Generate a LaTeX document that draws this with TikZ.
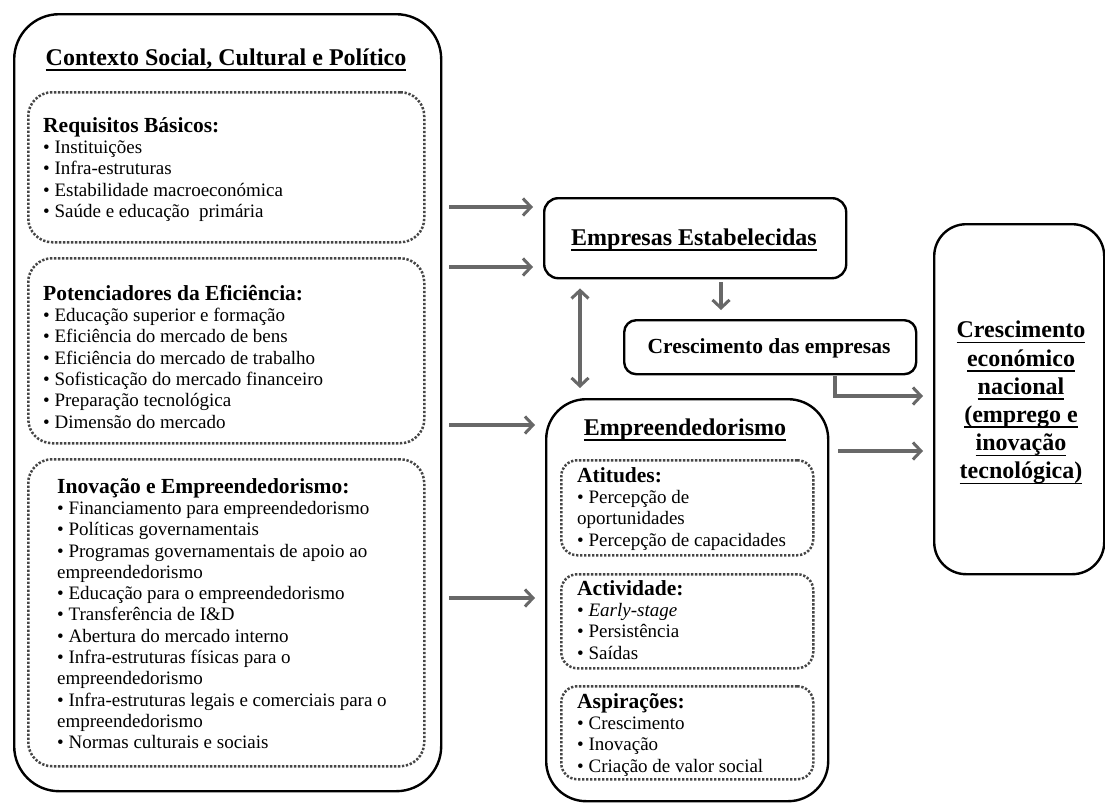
\documentclass[tikz,border=0pt]{standalone}
\usepackage{fontspec}
\setmainfont{Liberation Serif}
\usetikzlibrary{arrows.meta}
\definecolor{arrgray}{RGB}{104,104,104}
\definecolor{dotgray}{RGB}{70,70,70}
\newsavebox\hulbox
\newcommand\hul[1]{\sbox\hulbox{#1}\rlap{\rule[-5.6pt]{\wd\hulbox}{1.6pt}}\usebox\hulbox}
\newcommand\listhead[1]{{\fontsize{21.5}{21.2}\selectfont\bfseries #1}}
\tikzset{
  solidbox/.style={draw, line width=2.4pt, rounded corners=#1, inner sep=0pt, anchor=north west},
  dotbox/.style={draw=dotgray, line width=2.5pt, dash pattern=on 2.3pt off 1.7pt, rounded corners=#1, inner sep=0pt, anchor=north west},
  listtxt/.style={align=left, inner sep=0pt, anchor=north west, font=\fontsize{19}{21.3}\selectfont},
  title/.style={inner sep=0pt, anchor=base, font=\fontsize{24}{28}\selectfont\bfseries},
  arr/.style={draw=arrgray, line width=3.3pt, -{Straight Barb[length=8pt,width=17pt,line width=3pt]}},
  dblarr/.style={draw=arrgray, line width=3.3pt, {Straight Barb[length=8pt,width=17pt,line width=3pt]}-{Straight Barb[length=8pt,width=17pt,line width=3pt]}}
}
\begin{document}
\begin{tikzpicture}[x=1pt,y=-1pt]
\useasboundingbox (0,0) rectangle (1105,803);
\fill[white] (0,0) rectangle (1105,803);

% boxes
\node[solidbox=45pt, minimum width=427pt, minimum height=777pt] (ctx) at (13,13) {};
\node[dotbox=24pt, minimum width=396pt, minimum height=150pt] (b1) at (27,91) {};
\node[dotbox=24pt, minimum width=396pt, minimum height=185pt] (b2) at (27,257) {};
\node[dotbox=24pt, minimum width=396pt, minimum height=307pt] (b3) at (27,458) {};

\node[solidbox=14pt, minimum width=302pt, minimum height=80pt] (est) at (543,197) {};
\node[solidbox=12pt, minimum width=292pt, minimum height=54pt] (cres) at (623,319) {};
\node[solidbox=40pt, minimum width=282pt, minimum height=402pt] (emp) at (545,398) {};
\node[dotbox=16pt, minimum width=252pt, minimum height=95pt] (att) at (560,459) {};
\node[dotbox=16pt, minimum width=252pt, minimum height=94pt] (act) at (560,573) {};
\node[dotbox=16pt, minimum width=252pt, minimum height=93pt] (asp) at (560,685) {};
\node[solidbox=32pt, minimum width=170pt, minimum height=350pt] (nat) at (933,223) {};

% texts
\node[title] (ctxT) at (226,65) {\hul{Contexto Social, Cultural e Político}};
\node[listtxt] (b1T) at (43,117) {\listhead{Requisitos Básicos:}\\
• Instituições\\
• Infra-estruturas\\
• Estabilidade macroeconómica\\
• Saúde e educação~ primária};
\node[listtxt] (b2T) at (43,285) {\listhead{Potenciadores da Eficiência:}\\
• Educação superior e formação\\
• Eficiência do mercado de bens\\
• Eficiência do mercado de trabalho\\
• Sofisticação do mercado financeiro\\
• Preparação tecnológica\\
• Dimensão do mercado};
\node[listtxt] (b3T) at (57,478) {\listhead{Inovação e Empreendedorismo:}\\
• Financiamento para empreendedorismo\\
• Políticas governamentais\\
• Programas governamentais de apoio ao\\
empreendedorismo\\
• Educação para o empreendedorismo\\
• Transferência de I\&D\\
• Abertura do mercado interno\\
• Infra-estruturas físicas para o\\
empreendedorismo\\
• Infra-estruturas legais e comerciais para o\\
empreendedorismo\\
• Normas culturais e sociais};

\node[title] (estT) at (694,245) {\hul{Empresas Estabelecidas}};
\node[inner sep=0pt, anchor=base, font=\fontsize{21.5}{24}\selectfont\bfseries] (cresT) at (769,353) {Crescimento das empresas};
\node[title] (empT) at (685,435) {\hul{Empreendedorismo}};
\node[listtxt] (attT) at (577,467) {\listhead{Atitudes:}\\
• Percepção de\\
oportunidades\\
• Percepção de capacidades};
\node[listtxt] (actT) at (577,580) {\listhead{Actividade:}\\
• \textit{Early-stage}\\
• Persistência\\
• Saídas};
\node[listtxt] (aspT) at (577,693) {\listhead{Aspirações:}\\
• Crescimento\\
• Inovação\\
• Criação de valor social};
\node[inner sep=0pt, anchor=north, align=center, font=\fontsize{24}{28.2}\selectfont\bfseries] (natT) at (1021,321) {\hul{Crescimento}\\ \hul{económico}\\ \hul{nacional}\\ \hul{(emprego e}\\ \hul{inovação}\\ \hul{tecnológica)}};

% arrows
\coordinate (y1) at (0,207);
\coordinate (y2) at (0,267);
\coordinate (y3) at (0,425);
\coordinate (y4) at (0,598);
\draw[arr, shorten <=7pt, shorten >=10pt] (ctx.east |- y1) -- (est.west |- y1);
\draw[arr, shorten <=7pt, shorten >=10pt] (ctx.east |- y2) -- (est.west |- y2);
\draw[arr, shorten <=7pt, shorten >=10pt] (ctx.east |- y3) -- (emp.west |- y3);
\draw[arr, shorten <=7pt, shorten >=10pt] (ctx.east |- y4) -- (emp.west |- y4);

\coordinate (dx) at (580,0);
\draw[dblarr, shorten <=9pt, shorten >=10pt] (dx |- est.south) -- (dx |- emp.north);
\coordinate (dw) at (721,0);
\draw[arr, shorten <=3pt, shorten >=9pt] (dw |- est.south) -- (dw |- cres.north);
\coordinate (lk) at (835,396);
\draw[arr, shorten <=1pt, shorten >=10pt] (lk |- cres.south) |- (lk -| nat.west);
\coordinate (ey) at (0,451);
\draw[arr, shorten <=9pt, shorten >=10pt] (emp.east |- ey) -- (nat.west |- ey);
\end{tikzpicture}
\end{document}
